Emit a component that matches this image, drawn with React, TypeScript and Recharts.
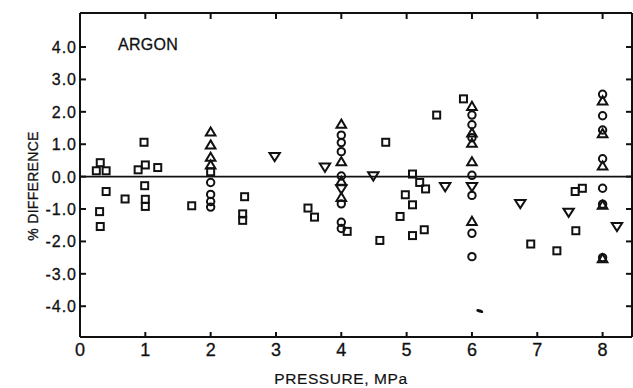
import React from "react";
import { ScatterChart, Scatter, XAxis, YAxis, ReferenceLine } from "recharts";

// [pressure MPa, % difference]
const squares: [number, number][] = [
  [0.31, 0.43], [0.25, 0.18], [0.4, 0.18], [0.4, -0.46], [0.3, -1.08], [0.31, -1.54],
  [0.69, -0.69], [0.98, 1.06], [0.89, 0.21], [1.0, 0.36], [1.19, 0.28], [0.99, -0.28],
  [1.0, -0.7], [1.0, -0.92], [1.71, -0.9], [2.0, 0.15], [2.52, -0.62], [2.49, -1.15],
  [2.49, -1.35], [3.49, -0.97], [3.59, -1.25], [4.09, -1.69], [4.59, -1.97], [4.68, 1.06],
  [5.46, 1.9], [5.09, 0.08], [5.2, -0.18], [5.29, -0.38], [4.98, -0.56], [5.09, -0.87],
  [4.9, -1.23], [5.09, -1.82], [5.27, -1.64], [5.87, 2.4], [6.9, -2.08], [7.3, -2.29],
  [7.58, -0.46], [7.69, -0.36], [7.59, -1.67],
];
const circles: [number, number][] = [
  [2, -0.18], [2, -0.55], [2, -0.77], [2, -0.94],
  [4, 1.28], [4, 1.05], [4, 0.77], [4, 0.02], [4, -0.84], [4, -1.41], [4, -1.6],
  [6, 1.9], [6, 1.6], [6, 1.2], [6, 0.04], [6, -0.58], [6, -1.75], [6, -2.47],
  [8, 2.54], [8, 1.88], [8, 1.44], [8, 0.55], [8, -0.36], [8, -0.85], [8, -2.5],
];
const triangles: [number, number][] = [
  [2, 1.38], [2, 0.98], [2, 0.6], [2, 0.36],
  [4, 1.62], [4, 0.46], [4, -0.14], [4, -0.64],
  [6, 2.17], [6, 1.35], [6, 1.03], [6, 0.46], [6, -1.38],
  [8, 2.34], [8, 1.33], [8, 0.33], [8, -0.88], [8, -2.53],
];
const invTriangles: [number, number][] = [
  [2.98, 0.62], [3.75, 0.29], [4.49, 0.02], [4, -0.38], [5.59, -0.31],
  [6, -0.31], [6.74, -0.83], [7.48, -1.1], [8.22, -1.54],
];
const blots: [number, number][] = [[6.12, -4.15]];

const xTicks = [0, 1, 2, 3, 4, 5, 6, 7, 8];
const yTicks = [-4, -3, -2, -1, 0, 1, 2, 3, 4];
const xDomain = [0, 8.45];
const yDomain = [-4.95, 5.05];

const toPts = (a: [number, number][]) => a.map(([x, y]) => ({ x, y }));

const FONT = "'Liberation Sans', Arial, sans-serif";
const INK = "#111";

const Square = ({ cx, cy }: any) => (
  <rect x={cx - 3.5} y={cy - 3.5} width={7} height={7} fill="none" stroke={INK} strokeWidth={2} />
);
const Circ = ({ cx, cy }: any) => <circle cx={cx} cy={cy} r={3.7} fill="none" stroke={INK} strokeWidth={2} />;
const Tri = ({ cx, cy }: any) => (
  <polygon points={`${cx},${cy - 4.5} ${cx + 4.8},${cy + 3.6} ${cx - 4.8},${cy + 3.6}`}
    fill="none" stroke={INK} strokeWidth={2} />
);
const InvTri = ({ cx, cy }: any) => (
  <polygon points={`${cx - 5.2},${cy - 3.6} ${cx + 5.2},${cy - 3.6} ${cx},${cy + 4.6}`}
    fill="none" stroke={INK} strokeWidth={2} />
);
const Blot = ({ cx, cy }: any) => (
  <ellipse cx={cx} cy={cy} rx={3.6} ry={1.6} fill={INK} transform={`rotate(18 ${cx} ${cy})`} />
);
const Nothing = () => <g />;

const fmtY = (v: number) => (v === 0 ? "0.0" : v.toFixed(1));

// ticks point inward on all four sides
function BottomTick({ x, y, payload }: any) {
  return (
    <g>
      <line x1={x} y1={y} x2={x} y2={y - 5} stroke={INK} strokeWidth={2} />
      <text x={x} y={y + 19} textAnchor="middle" fill={INK} stroke={INK} strokeWidth={0.3}
        style={{ fontSize: 18, fontFamily: FONT }}>
        {payload.value}
      </text>
    </g>
  );
}
function TopTick({ x, y }: any) {
  return <line x1={x} y1={y} x2={x} y2={y + 6} stroke={INK} strokeWidth={2} />;
}
function LeftTick({ x, y, payload }: any) {
  return (
    <g>
      <line x1={x} y1={y} x2={x + 6} y2={y} stroke={INK} strokeWidth={2} />
      <text x={x - 3} y={y + 6} textAnchor="end" fill={INK} stroke={INK} strokeWidth={0.3}
        style={{ fontSize: 16, fontFamily: FONT, letterSpacing: 1 }}>
        {fmtY(payload.value)}
      </text>
    </g>
  );
}
function RightTick({ x, y }: any) {
  return <line x1={x} y1={y} x2={x - 6} y2={y} stroke={INK} strokeWidth={2} />;
}

const axisLine = { stroke: INK, strokeWidth: 2 };

export default function App() {
  return (
    <div style={{ position: "relative", width: 633, height: 388, background: "#fff", fontFamily: FONT }}>
      <style>{"body{margin:0}"}</style>
      <ScatterChart width={633} height={388} margin={{ top: 12, right: 0, left: 0, bottom: 0 }}>
        <XAxis xAxisId="b" dataKey="x" type="number" domain={xDomain} ticks={xTicks} allowDataOverflow
          orientation="bottom" height={51} axisLine={axisLine} tickLine={false} tickSize={0} tickMargin={0}
          tick={<BottomTick />} interval={0} />
        <XAxis xAxisId="t" dataKey="x" type="number" domain={xDomain} ticks={xTicks} allowDataOverflow
          orientation="top" height={1} axisLine={axisLine} tickLine={false} tickSize={0} tickMargin={0}
          tick={<TopTick />} interval={0} />
        <YAxis yAxisId="l" dataKey="y" type="number" domain={yDomain} ticks={yTicks} allowDataOverflow
          orientation="left" width={80} axisLine={axisLine} tickLine={false} tickSize={0} tickMargin={0}
          tick={<LeftTick />} interval={0} />
        <YAxis yAxisId="r" dataKey="y" type="number" domain={yDomain} ticks={yTicks} allowDataOverflow
          orientation="right" width={1} axisLine={axisLine} tickLine={false} tickSize={0} tickMargin={0}
          tick={<RightTick />} interval={0} />
        <ReferenceLine xAxisId="b" yAxisId="l" y={0} stroke={INK} strokeWidth={1.8} />
        {/* hidden series so the top/right frame axes get drawn */}
        <Scatter xAxisId="t" yAxisId="r" data={toPts(blots)} shape={<Nothing />} isAnimationActive={false} />
        <Scatter xAxisId="b" yAxisId="l" data={toPts(squares)} shape={<Square />} isAnimationActive={false} />
        <Scatter xAxisId="b" yAxisId="l" data={toPts(circles)} shape={<Circ />} isAnimationActive={false} />
        <Scatter xAxisId="b" yAxisId="l" data={toPts(triangles)} shape={<Tri />} isAnimationActive={false} />
        <Scatter xAxisId="b" yAxisId="l" data={toPts(invTriangles)} shape={<InvTri />} isAnimationActive={false} />
        <Scatter xAxisId="b" yAxisId="l" data={toPts(blots)} shape={<Blot />} isAnimationActive={false} />
      </ScatterChart>

      <div style={{ position: "absolute", left: 118, top: 36, fontSize: 16, color: INK, letterSpacing: 0.3,
        WebkitTextStroke: "0.3px #111" }}>
        ARGON
      </div>
      <div style={{ position: "absolute", left: 0, top: 370, width: 682, textAlign: "center",
        fontSize: 15.5, color: INK, letterSpacing: 0.6, WebkitTextStroke: "0.2px #111" }}>
        PRESSURE, MPa
      </div>
      <div style={{ position: "absolute", left: 33 - 70, top: 186 - 10, width: 140, height: 20,
        textAlign: "center", fontSize: 14, lineHeight: "20px", color: INK, letterSpacing: 0.3,
        WebkitTextStroke: "0.3px #111", transform: "rotate(-90deg)" }}>
        % DIFFERENCE
      </div>
    </div>
  );
}
